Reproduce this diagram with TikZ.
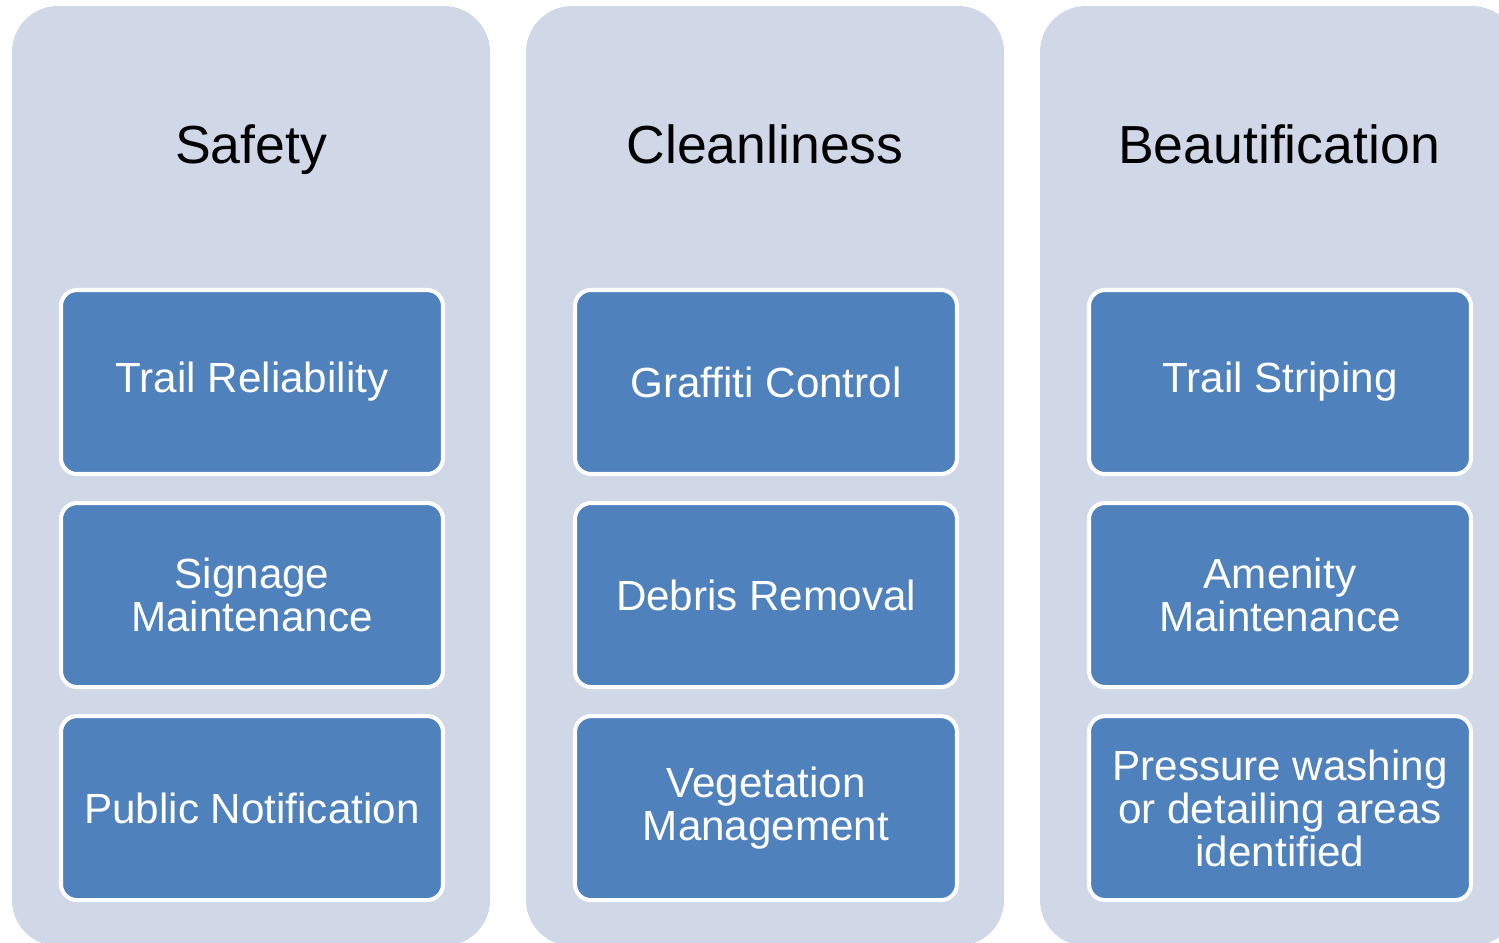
\documentclass[tikz,border=0pt]{standalone}
\usepackage{fontspec}
\setmainfont{Liberation Sans}
\usepackage{xcolor}
\usepackage{tikz}
\usetikzlibrary{positioning}

\definecolor{panelgray}{HTML}{D0D8E8}
\definecolor{itemblue}{HTML}{4F81BD}

\tikzset{
    panel/.style={fill=panelgray, rounded corners=0.92cm, minimum width=9.56cm, minimum height=18.8cm, inner sep=0pt},
    heading/.style={anchor=base, font=\fontsize{30.5}{36}\selectfont},
    item/.style={fill=itemblue, draw=white, line width=2.3pt, rounded corners=0.32cm,
        minimum width=7.64cm, minimum height=3.68cm, inner sep=2pt,
        text=white, align=center, font=\fontsize{24}{24.5}\selectfont}
}

\begin{document}
\begin{tikzpicture}
            \useasboundingbox (0,0) rectangle (29.98,-18.84);
            % draw one panel per category with its heading
            \foreach \name/\title/\one/\two/\three [count=\i from 0] in {
                safety/Safety/{Trail Reliability}/{Signage\\Maintenance}/{Public Notification},
                clean/Cleanliness/{Graffiti Control}/{Debris Removal}/{Vegetation\\Management},
                beauty/Beautification/{Trail Striping}/{Amenity\\Maintenance}/{Pressure washing\\or detailing areas\\identified}}
            {
                \node[panel] (\name-panel) at (5.02+10.28*\i,-9.52) {};
                \node[heading] (\name-title) at (5.02+10.28*\i,-3.26) {\title};
                % stack the three task boxes inside the panel
                \node[item] (\name-a) at (5.04+10.28*\i,-7.64) {\one};
                \node[item, below=0.5cm of \name-a] (\name-b) {\two};
                \node[item, below=0.5cm of \name-b] (\name-c) {\three};
            }
        \end{tikzpicture}
\end{document}
